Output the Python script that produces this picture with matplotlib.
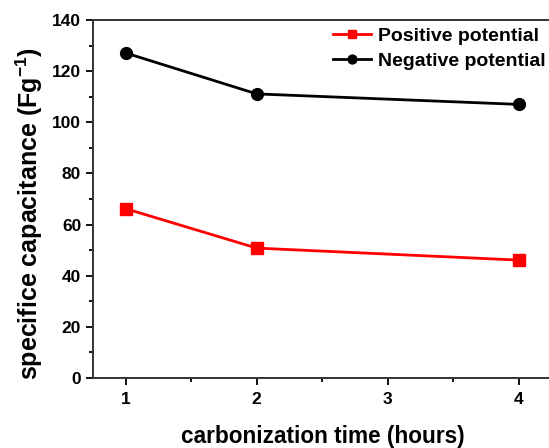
import matplotlib
matplotlib.use("Agg")
import matplotlib.pyplot as plt
from matplotlib.ticker import MultipleLocator

plt.rcParams['font.family'] = ['Liberation Sans', 'DejaVu Sans']
plt.rcParams['font.weight'] = 'bold'
plt.rcParams['mathtext.fontset'] = 'custom'
plt.rcParams['mathtext.bf'] = 'Liberation Sans:bold'
plt.rcParams['mathtext.rm'] = 'Liberation Sans:bold'

hours = [1, 2, 4]
positive = [66.2, 50.8, 46.1]
negative = [127.1, 111.1, 107.0]

fig = plt.figure(figsize=(5.49, 4.48), dpi=100)
ax = fig.add_axes([93/549, 70/448, 462/549, 358/448])

ax.plot(hours, positive, color='#ff0000', marker='s', markersize=8, linewidth=2,
        label='Positive potential')
ax.plot(hours, negative, color='black', marker='o', markersize=8.5, linewidth=2,
        label='Negative potential')

ax.set_xlim(0.75, 0.75 + 3.5 * 462 / 458.5)
ax.set_ylim(0, 140)
ax.xaxis.set_major_locator(MultipleLocator(1))
ax.xaxis.set_minor_locator(MultipleLocator(0.5))
ax.yaxis.set_major_locator(MultipleLocator(20))
ax.yaxis.set_minor_locator(MultipleLocator(10))
ax.tick_params(which='both', direction='out', width=1.3, labelsize=12.5, top=False, right=False)
ax.tick_params(which='major', length=5)
ax.tick_params(which='minor', length=3)
ax.tick_params(axis='x', which='both', pad=5)
for lab in ax.get_xticklabels() + ax.get_yticklabels():
    lab.set_fontweight('bold')
for sp in ax.spines.values():
    sp.set_linewidth(1.4)
    sp.set_color('#333333')
ax.spines['right'].set_visible(False)

ax.set_xlabel('carbonization time (hours)', fontsize=16.3, fontweight='bold')
ax.xaxis.set_label_coords(0.497, -0.131)
ax.set_ylabel('specifice capacitance (Fg$^{\\mathbf{-1}}$)', fontsize=18, fontweight='bold')
ax.yaxis.set_label_coords(-0.104, 0.46)

leg = ax.legend(loc='upper left', bbox_to_anchor=(333/549, 1 - 27/448),
                bbox_transform=fig.transFigure, frameon=False, fontsize=14,
                handlelength=1.95, handletextpad=0.35, labelspacing=0.39,
                borderaxespad=0, borderpad=0, markerscale=0.75)
for t in leg.get_texts():
    t.set_fontweight('bold')

fig.savefig('out.png', dpi=100)
